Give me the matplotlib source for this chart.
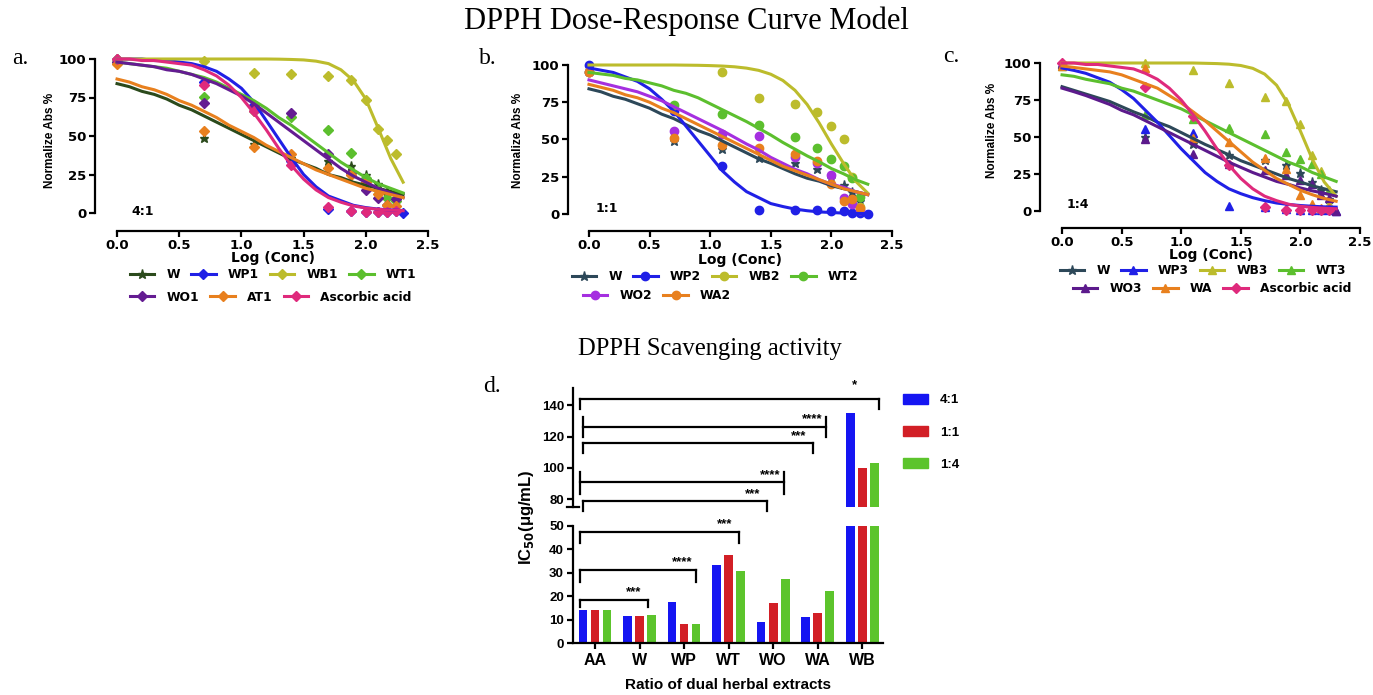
import numpy as np
import matplotlib
matplotlib.use('Agg')
import matplotlib.pyplot as plt
from matplotlib.lines import Line2D
from matplotlib.patches import Patch

W_PX, H_PX = 1373, 695
nan = float('nan')

# log10 of concentration for the measured points and for the fitted curves
dose_log = [0.0, 0.7, 1.1, 1.4, 1.7, 1.88, 2.0, 2.1, 2.17, 2.24, 2.3]
fit_log = [0.0, 0.1, 0.2, 0.3, 0.4, 0.5, 0.6, 0.7, 0.8, 0.9, 1.0, 1.1,
           1.2, 1.3, 1.4, 1.5, 1.6, 1.7, 1.8, 1.9, 2.0, 2.1, 2.2, 2.3]

# panel a (4:1)
a_W_pts = [98, 49, 45, 36, 34, 30.5, 25, 19, 14, 10, nan]
a_W_fit = [84, 82, 79, 77, 74, 70, 67, 63, 59, 55, 51, 47, 43, 39, 35, 32, 29, 25, 23, 20, 18, 16, 14, 12]
a_WP1_pts = [100, 85, 70, 34, 2.5, 1, 0.5, 0.5, 0.5, 1, 0]
a_WP1_fit = [100, 100, 100, 99, 99, 98, 97, 95, 92, 87, 81, 72, 60, 48, 36, 25, 17, 11, 8, 5, 3.5, 2.5, 2, 1.6]
a_WB1_pts = [100, 98.5, 91, 90, 89, 86.5, 73.5, 54.5, 47.5, 38.5, nan]
a_WB1_fit = [100, 100, 100, 100, 100, 100, 100, 100, 100, 100, 100, 100, 100, 99.9, 99.7, 99.4, 98.6, 97, 93, 86, 74, 55, 35.5, 20]
a_WT1_pts = [98, 75.5, 66, 62.5, 54, 39, 23, 15, 10, 8, nan]
a_WT1_fit = [98, 97, 96, 95, 94, 92, 90, 88, 85, 81, 77, 73, 68, 62, 57, 51, 45, 39, 33, 28, 23, 19, 16, 13]
a_WO1_pts = [98, 71.5, 69, 65, 38, 26, 15, 9.5, 5.5, 9, nan]
a_WO1_fit = [98, 97, 96, 95, 93, 92, 90, 87, 84, 80, 76, 71, 65, 59, 53, 47, 41, 35, 29, 24, 20, 16, 13, 10]
a_AT1_pts = [97, 53.5, 43, 38.5, 29, 25, 20, 12.5, 5, 4.5, nan]
a_AT1_fit = [87, 85, 82, 80, 77, 73, 70, 66, 62, 57, 53, 49, 44, 40, 36, 32, 28, 25, 22, 19, 16, 14, 12, 10]
a_AA_pts = [100, 83, 66, 31, 4, 1, 0.5, 0.5, 0.5, 1, nan]
a_AA_fit = [100, 100, 99, 99, 98, 97, 96, 93, 89, 83, 75, 65, 54, 42, 31, 22, 15, 10, 7, 4.6, 3.2, 2.4, 1.9, 1.5]

# panel b (1:1)
b_W_pts = [96, 49, 43.5, 37.5, 34, 30, 24, 19.5, 14.5, 8.5, nan]
b_W_fit = [84, 82, 79, 77, 74, 71, 67, 64, 60, 56, 53, 49, 45, 41, 37, 34, 30.5, 27, 24, 22, 19, 17, 15, 13]
b_WP2_pts = [100, 69, 32, 3, 3, 3, 2, 2, 1, 1, 0]
b_WP2_fit = [98, 96.5, 95, 92, 89, 84, 77, 69, 59, 49, 39, 29, 21.5, 15, 11, 7, 5, 3.3, 2.2, 1.4, 1, 0.6, 0.4, 0.3]
b_WB2_pts = [95, nan, 95.5, 78, 74, 68.5, 59, 50, 25, 5, nan]
b_WB2_fit = [100, 100, 100, 100, 100, 100, 100, 100, 99.9, 99.8, 99.6, 99.3, 98.8, 97.9, 96.4, 93.8, 89.6, 83, 73.5, 61, 47, 34, 22, 14]
b_WT2_pts = [95, 73, 67, 60, 52, 44, 37, 32, 24, 11.5, nan]
b_WT2_fit = [95, 94, 93, 91, 90, 88, 86, 83, 81, 78, 74, 70, 66, 62, 57.5, 53, 48, 43.5, 39, 35, 30.5, 27, 23, 20]
b_WO2_pts = [95, 56, 53.5, 52.5, 38, 34, 26, 10.5, 6.5, 3, nan]
b_WO2_fit = [90, 88, 86, 84, 82, 79, 76, 72, 68, 64, 60, 56, 51.5, 47, 43, 38, 34, 30, 27, 23, 20, 18, 15, 13]
b_WA2_pts = [95, 51, 46, 44, 40.5, 35.5, 20, 8.5, 10, 4, nan]
b_WA2_fit = [87, 85, 83, 80, 78, 75, 71, 68, 64, 60, 56, 52, 48, 44, 40, 36, 32, 29, 26, 23, 20, 17, 15, 13]

# panel c (1:4)
c_W_pts = [99, 50, 45.5, 38, 34.5, 31, 25.5, 19.5, 14, 8, nan]
c_W_fit = [84, 81.5, 79, 76.5, 74, 70.5, 67, 64, 60, 57, 53, 49, 45, 41.5, 38, 34, 31, 28, 25, 22, 19.6, 17, 15, 13]
c_WP3_pts = [100, 55.5, 52.5, 3.5, 3, 1.5, 1, 1, 1, 1, 0]
c_WP3_fit = [96.6, 95, 93, 90, 87, 82, 76, 68, 60, 51, 42, 34, 26, 20, 15, 11.7, 9, 7, 5.4, 4.4, 3.7, 3.2, 2.8, 2.6]
c_WB3_pts = [99, 100, 95.5, 86.5, 77, 74, 59, 38, 27, 5, nan]
c_WB3_fit = [100, 100, 100, 100, 100, 100, 100, 100, 100, 100, 100, 100, 99.8, 99.6, 99.2, 98.3, 96.4, 92.5, 85, 72, 54, 35, 19.6, 10]
c_WT3_pts = [98, 65, 62, 56, 52, 40, 35, 32, 25, 14, nan]
c_WT3_fit = [92, 91, 89, 87.5, 86, 83, 81, 78, 75, 72, 69, 65, 61, 57, 53, 49, 45, 41, 37, 33, 30, 26, 23, 20]
c_WO3_pts = [99, 48.5, 38.5, 32, 27.5, 24.5, 21, 18, 10.5, 9, 0]
c_WO3_fit = [83, 80.6, 78, 75, 72, 68, 65, 61, 57, 53, 49, 45, 41, 37, 33, 29.5, 26, 23, 20, 18, 15.6, 13.6, 12, 10]
c_WA_pts = [98, 96.5, 49, 46.5, 35.5, 28.5, 11, 5, 2, 3, nan]
c_WA_fit = [98, 97, 96, 95, 94, 92, 89, 86, 83, 78, 73, 67, 61, 54, 47, 40, 33, 27.5, 22, 18, 14, 11, 8.5, 6.6]
c_AA_pts = [100, 84, 64, 31, 3, 1, 0.5, 0.5, 0.5, 0.5, nan]
c_AA_fit = [100, 100, 99, 99, 98, 97, 96, 93, 89, 83, 75, 65, 54, 42, 31, 22, 15, 10, 7, 4.6, 3.2, 2.4, 1.9, 1.5]

# panel d: IC50 (ug/mL)
groups = ['AA', 'W', 'WP', 'WT', 'WO', 'WA', 'WB']
ratios = ['4:1', '1:1', '1:4']
ic50_41 = [14.1, 11.5, 17.4, 33.3, 9, 11, 135]
ic50_11 = [14, 11.5, 8, 37.4, 17, 13, 100]
ic50_14 = [14.3, 12, 8.3, 30.8, 27.5, 22.2, 103]

# significance brackets: (from, to, height, stars)
brackets_hi = [(-0.34, 6.38, 144, '*'), (-0.27, 5.19, 126, '****'), (-0.27, 4.9, 115.7, '***'),
               (-0.34, 4.25, 90.8, '****'), (-0.27, 3.87, 78.7, '***')]
brackets_lo = [(-0.34, 3.24, 47.4, '***'), (-0.34, 2.27, 31.2, '****'), (-0.34, 1.19, 18.4, '***')]

C_BLUE = '#2020e6'
C_OLIVE = '#bcbc2c'
C_GREEN = '#5cbf2e'
C_ORANGE = '#e8801e'
C_PINK = '#df2a7c'

plt.rcParams['font.family'] = 'DejaVu Sans'
plt.rcParams['mathtext.default'] = 'bf'
fig = plt.figure(figsize=(W_PX / 100, H_PX / 100), dpi=100)


def add_px(l, t, r, b):
    return fig.add_axes([l / W_PX, 1 - b / H_PX, (r - l) / W_PX, (b - t) / H_PX])


def curve_panel(box, x0, offset, series, tag, tag_xy, rows, lab_x, ylab, xlab_y):
    ax = add_px(*box)
    ax.set_xlim(x0, 2.5)
    ax.set_ylim(0, 100)
    for s in ['top', 'right']:
        ax.spines[s].set_visible(False)
    ax.spines['bottom'].set_position(('outward', offset * 0.72))
    ax.spines['bottom'].set_bounds(0, 2.5)
    ax.spines['left'].set_bounds(0, 100)
    for s in ['bottom', 'left']:
        ax.spines[s].set_linewidth(1.6)
    ax.set_xticks([0, 0.5, 1, 1.5, 2, 2.5])
    ax.set_xticklabels(['0.0', '0.5', '1.0', '1.5', '2.0', '2.5'])
    ax.set_yticks([0, 25, 50, 75, 100])
    ax.tick_params(length=4, width=1.6, labelsize=9.5, pad=2)
    for lb in ax.get_xticklabels() + ax.get_yticklabels():
        lb.set_fontweight('bold')
    handles = []
    for name, col, mk, ms, pts, fit in series:
        ax.plot(fit_log, fit, color=col, lw=2.2, clip_on=False, zorder=3)
        ax.plot(dose_log, pts, ls='none', marker=mk, ms=ms, color=col, clip_on=False, zorder=2)
        handles.append(Line2D([], [], color=col, lw=2.2, marker=mk, ms=ms, label=name))
    ax.text(tag_xy[0], tag_xy[1], tag, fontsize=9, fontweight='bold', ha='center', va='center')
    fig.text(lab_x / W_PX, 1 - ylab / H_PX, 'Normalize Abs %', rotation=90, ha='center', va='center',
             fontsize=8.5, fontweight='bold', family='Liberation Sans')
    cx = (ax.transData.transform((0, 0))[0] + ax.transData.transform((2.5, 0))[0]) / 2
    fig.text(cx / fig.bbox.width, 1 - xlab_y / H_PX, 'Log (Conc)', ha='center', va='center',
             fontsize=10, fontweight='bold')
    n1 = 4
    for (rx, ry), hs in zip(rows, [handles[:n1], handles[n1:]]):
        fig.legend(handles=hs, loc='center left', bbox_to_anchor=(rx / W_PX, 1 - ry / H_PX),
                   ncol=len(hs), frameon=False, prop={'size': 8.8, 'weight': 'bold'},
                   handlelength=2.0, handletextpad=1.0, columnspacing=0.9,
                   borderpad=0, borderaxespad=0)
    return ax


ser_a = [('W', '#2b4a1c', '*', 6.5, a_W_pts, a_W_fit),
         ('WP1', C_BLUE, 'D', 5, a_WP1_pts, a_WP1_fit),
         ('WB1', C_OLIVE, 'D', 5, a_WB1_pts, a_WB1_fit),
         ('WT1', C_GREEN, 'D', 5, a_WT1_pts, a_WT1_fit),
         ('WO1', '#641c92', 'D', 5, a_WO1_pts, a_WO1_fit),
         ('AT1', C_ORANGE, 'D', 5, a_AT1_pts, a_AT1_fit),
         ('Ascorbic acid', C_PINK, 'D', 5, a_AA_pts, a_AA_fit)]
ser_b = [('W', '#2d4859', '*', 6.5, b_W_pts, b_W_fit),
         ('WP2', C_BLUE, 'o', 6, b_WP2_pts, b_WP2_fit),
         ('WB2', C_OLIVE, 'o', 6, b_WB2_pts, b_WB2_fit),
         ('WT2', C_GREEN, 'o', 6, b_WT2_pts, b_WT2_fit),
         ('WO2', '#a52fe0', 'o', 6, b_WO2_pts, b_WO2_fit),
         ('WA2', C_ORANGE, 'o', 6, b_WA2_pts, b_WA2_fit)]
ser_c = [('W', '#2d4859', '*', 6.5, c_W_pts, c_W_fit),
         ('WP3', C_BLUE, '^', 6, c_WP3_pts, c_WP3_fit),
         ('WB3', C_OLIVE, '^', 6, c_WB3_pts, c_WB3_fit),
         ('WT3', C_GREEN, '^', 6, c_WT3_pts, c_WT3_fit),
         ('WO3', '#5c1a8c', '^', 6, c_WO3_pts, c_WO3_fit),
         ('WA', C_ORANGE, '^', 6, c_WA_pts, c_WA_fit),
         ('Ascorbic acid', C_PINK, 'D', 5, c_AA_pts, c_AA_fit)]

curve_panel((95, 59, 428, 213), -0.177, 18, ser_a, '4:1', (0.21, 1),
            [(130, 275), (130, 297)], 50, 140, 258)
curve_panel((568, 65, 892, 214), -0.173, 17, ser_b, '1:1', (0.15, 4),
            [(572, 277), (583, 296)], 518, 140, 260)
curve_panel((1040, 63, 1360, 211), -0.185, 17, ser_c, '1:4', (0.13, 4.7),
            [(1060, 271), (1073, 289)], 992, 130, 255)

# panel d: broken-axis bar chart
lower = add_px(573, 526, 883, 643)
upper = add_px(573, 388, 883, 507)
xpos = np.arange(len(groups))
bar_cols = ['#1515f2', '#d21f26', '#5cc42c']
for off, vals, col in zip([-0.27, 0, 0.27], [ic50_41, ic50_11, ic50_14], bar_cols):
    for ax in (lower, upper):
        ax.bar(xpos + off, vals, width=0.2, color=col)
for ax in (lower, upper):
    ax.set_xlim(-0.494, 6.47)
    for s in ['top', 'right']:
        ax.spines[s].set_visible(False)
    for s in ['bottom', 'left']:
        ax.spines[s].set_linewidth(1.6)
    ax.tick_params(length=4.5, width=1.6, labelsize=9.5, pad=2)
lower.set_ylim(0, 50)
lower.set_yticks([0, 10, 20, 30, 40, 50])
lower.set_xticks(xpos)
lower.set_xticklabels(groups)
lower.tick_params(axis='x', labelsize=11.5, pad=3)
upper.set_ylim(75, 151)
upper.set_yticks([80, 100, 120, 140])
upper.spines['bottom'].set_visible(False)
upper.set_xticks([])
upper.plot([-0.62, -0.37], [75, 75], color='black', lw=1.6, clip_on=False)
for ax in (lower, upper):
    for lb in ax.get_xticklabels() + ax.get_yticklabels():
        lb.set_fontweight('bold')
        lb.set_family('Liberation Sans')


def px_per_unit(ax):
    return ax.transData.transform((0, 1))[1] - ax.transData.transform((0, 0))[1]


def draw_brackets(ax, items, up_px, down_px):
    k = px_per_unit(ax)
    for i, (x0, x1, y, stars) in enumerate(items):
        up = up_px[i] / k
        dn = down_px[i] / k
        ax.plot([x0, x0], [y - dn, y + up], color='black', lw=1.6, clip_on=False)
        ax.plot([x1, x1], [y - dn, y + up], color='black', lw=1.6, clip_on=False)
        ax.plot([x0, x1], [y, y], color='black', lw=1.6, clip_on=False)
        if len(stars) > 1:
            sx, sy = x1 - 0.32, y + 1.5 / k
        else:
            sx, sy = x1 - 0.54, y + 8 / k
        ax.text(sx, sy, stars, ha='center', va='bottom',
                fontsize=9.5, fontweight='bold', family='Liberation Sans')


draw_brackets(upper, brackets_hi, [0, 10, 0, 10, 0], [10, 10, 10, 12, 10])
draw_brackets(lower, brackets_lo, [0, 0, 0], [11, 12, 7])

fig.text(527 / W_PX, 1 - 517 / H_PX, 'IC$_{50}$(\u03bcg/mL)', rotation=90, ha='center', va='center',
         fontsize=12, fontweight='bold', family='Liberation Sans')
fig.text(728 / W_PX, 1 - 685 / H_PX, 'Ratio of dual herbal extracts', ha='center', va='center',
         fontsize=11, fontweight='bold', family='Liberation Sans')
fig.legend(handles=[Patch(color=c, label=r) for c, r in zip(bar_cols, ratios)],
           loc='upper left', bbox_to_anchor=(903 / W_PX, 1 - 394 / H_PX), frameon=False,
           prop={'size': 9.5, 'weight': 'bold', 'family': 'Liberation Sans'},
           handlelength=1.9, handleheight=0.75, handletextpad=0.9, labelspacing=1.5,
           borderpad=0, borderaxespad=0)

# titles and panel letters
serif = 'Liberation Serif'
fig.text(686 / W_PX, 1 - 21 / H_PX, 'DPPH Dose-Response Curve Model', ha='center', va='center',
         fontsize=22, family=serif)
fig.text(710 / W_PX, 1 - 349 / H_PX, 'DPPH Scavenging activity', ha='center', va='center',
         fontsize=17.7, family=serif)
for lt, (lx, ly) in zip(['a.', 'b.', 'c.', 'd.'], [(20, 58), (488, 58), (951, 56), (492, 386)]):
    fig.text(lx / W_PX, 1 - ly / H_PX, lt, ha='center', va='center', fontsize=17, family=serif)

fig.savefig('out.png', dpi=100)
